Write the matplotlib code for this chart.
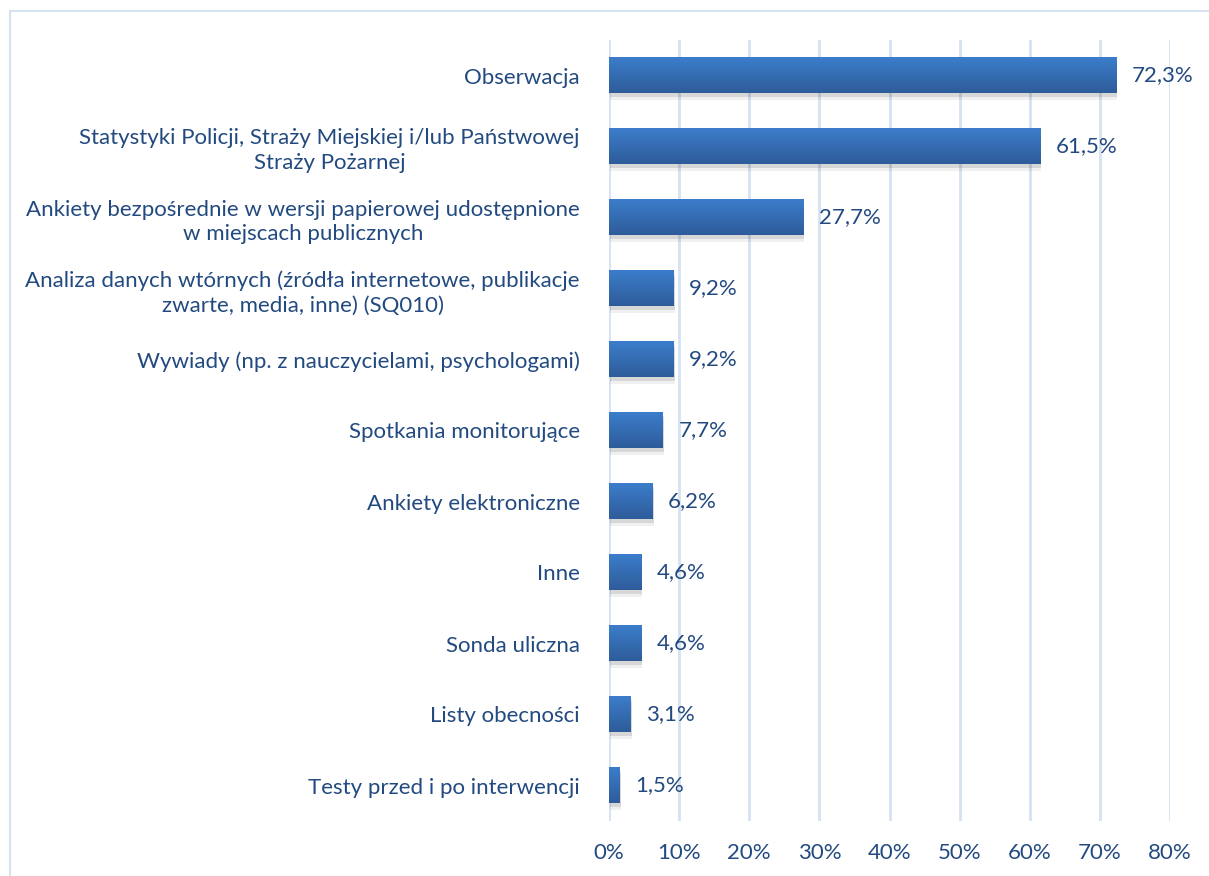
import matplotlib

matplotlib.use("Agg")
import matplotlib.pyplot as plt
import numpy as np
from matplotlib.patches import Rectangle

categories = [
    "Obserwacja",
    "Statystyki Policji, Straży Miejskiej i/lub Państwowej\nStraży Pożarnej",
    "Ankiety bezpośrednie w wersji papierowej udostępnione\nw miejscach publicznych",
    "Analiza danych wtórnych (źródła internetowe, publikacje\nzwarte, media, inne) (SQ010)",
    "Wywiady (np. z nauczycielami, psychologami)",
    "Spotkania monitorujące",
    "Ankiety elektroniczne",
    "Inne",
    "Sonda uliczna",
    "Listy obecności",
    "Testy przed i po interwencji",
]
values = [72.3, 61.5, 27.7, 9.2, 9.2, 7.7, 6.2, 4.6, 4.6, 3.1, 1.5]
xticks = [0, 10, 20, 30, 40, 50, 60, 70, 80]

TEXT = "#224A80"
GRID = "#D5E2F2"
FS = 16

plt.rcParams["font.family"] = ["Lato", "DejaVu Sans"]

W, H = 1209, 876
fig = plt.figure(figsize=(W / 100, H / 100), dpi=100)
ax = fig.add_axes([609 / W, 1 - 821 / H, (1170 - 609) / W, (821 - 40) / H])

# outer frame of the chart area
fig.patches.append(Rectangle((10 / W, -0.01), 1.1, 1 - 11 / H + 0.01,
                             transform=fig.transFigure, fill=False,
                             edgecolor=GRID, lw=1.5))

n = len(categories)
y = np.arange(n)
h = 0.5
grad = np.linspace(0, 1, 64).reshape(-1, 1)
cmap = matplotlib.colors.LinearSegmentedColormap.from_list(
    "bar", ["#3C7DCB", "#2E5C9A"])

for yi, v in zip(y, values):
    # soft shadow under the bar
    for k, a in ((0.05, 0.10), (0.09, 0.06)):
        ax.add_patch(Rectangle((0.15, yi - h / 2 + k), v, h, color="#000000",
                               alpha=a, lw=0, zorder=2))
    ax.imshow(grad, extent=(0, v, yi + h / 2, yi - h / 2), cmap=cmap,
              aspect="auto", zorder=3, interpolation="bilinear")
    ax.text(v + 2.2, yi, f"{v:.1f}%".replace(".", ","), va="center",
            ha="left", fontsize=FS, color=TEXT)

ax.set_xlim(0, 80)
ax.set_ylim(n - 0.5, -0.5)
ax.set_xticks(xticks)
ax.set_xticklabels([f"{t}%" for t in xticks], fontsize=FS, color=TEXT)
ax.set_yticks(y)
ax.set_yticklabels(categories, fontsize=FS, color=TEXT, ha="right",
                   multialignment="center", linespacing=1.3)
ax.tick_params(axis="both", length=0)
ax.tick_params(axis="y", pad=21)
ax.tick_params(axis="x", pad=16)
ax.grid(axis="x", color=GRID, lw=2, zorder=0)
ax.set_axisbelow(True)
for s in ax.spines.values():
    s.set_visible(False)

fig.savefig("out.png", dpi=100)
